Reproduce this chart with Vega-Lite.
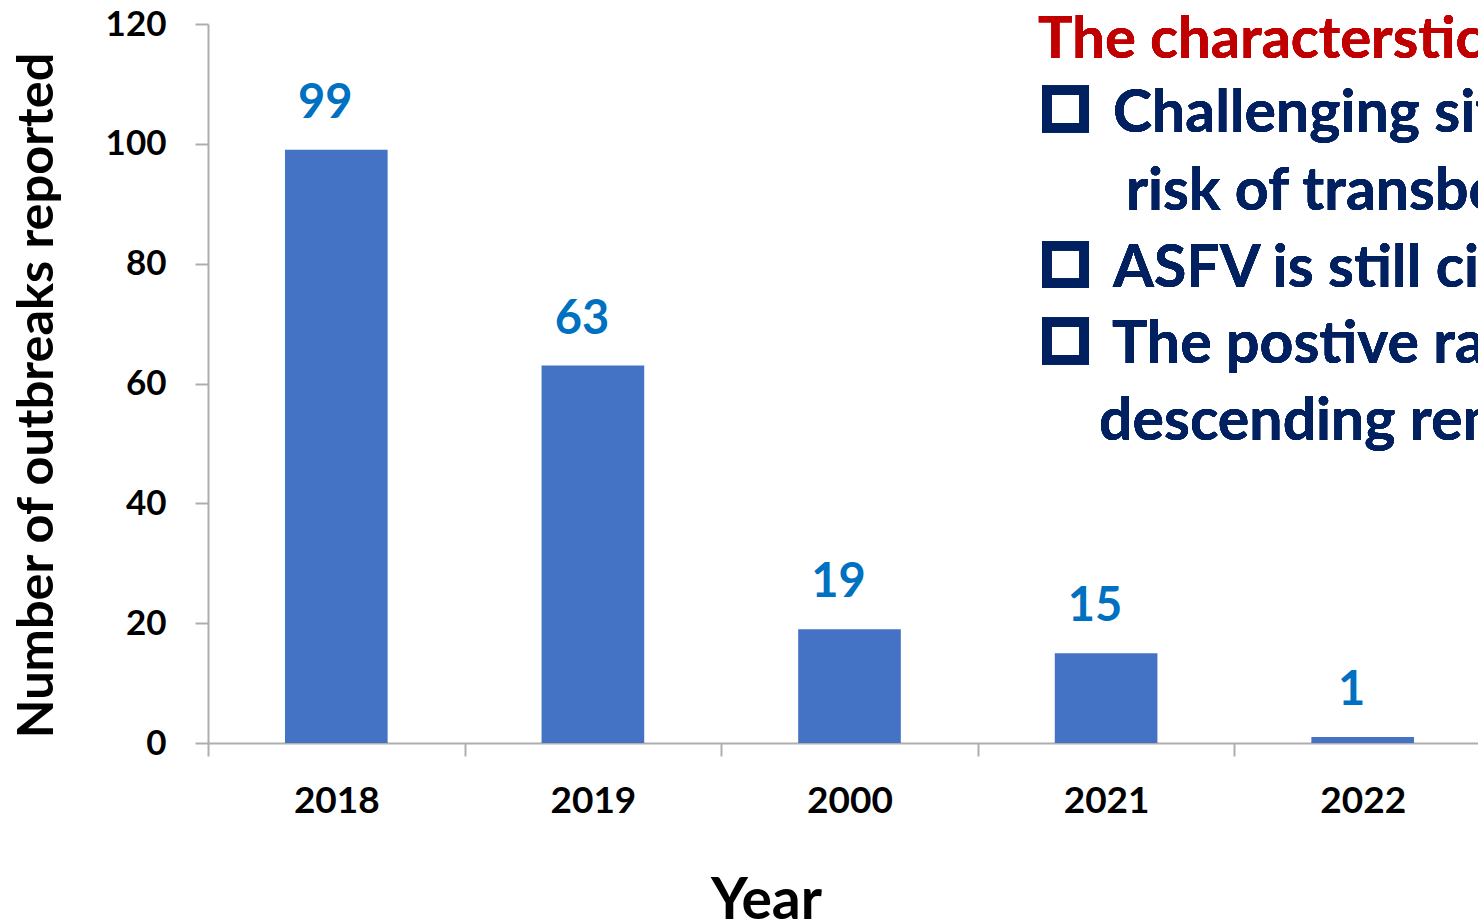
{
  "$schema": "https://vega.github.io/schema/vega-lite/v6.json",
  "width": 1270,
  "height": 719,
  "autosize": {"type": "none"},
  "padding": {"left": 208, "top": 24, "right": 0, "bottom": 181},
  "background": "white",
  "config": {"view": {"stroke": null}, "font": "Lato"},
  "data": {"values": [
    {"year": "2018", "outbreaks": 99},
    {"year": "2019", "outbreaks": 63},
    {"year": "2000", "outbreaks": 19},
    {"year": "2021", "outbreaks": 15},
    {"year": "2022", "outbreaks": 1}
  ]},
  "encoding": {
    "x": {"field": "year", "type": "nominal", "sort": null,
      "scale": {"range": [0, 1283], "paddingInner": 0, "paddingOuter": 0},
      "axis": {
        "title": "Year", "titleFont": "Lato", "titleFontSize": 57, "titleFontWeight": "bold", "titleColor": "black",
        "titleX": 558, "titleY": 175, "titleBaseline": "alphabetic", "titleAlign": "center",
        "labelAngle": 0, "labelFontSize": 37, "labelFontWeight": "bold", "labelColor": "black", "labelPadding": 27,
        "tickBand": "extent", "tickSize": 13, "tickColor": "#AEAEAE", "tickWidth": 2,
        "domainColor": "#AEAEAE", "domainWidth": 2, "grid": false
      }
    },
    "y": {"field": "outbreaks", "type": "quantitative",
      "scale": {"domain": [0, 120], "nice": false},
      "axis": {
        "values": [0, 20, 40, 60, 80, 100, 120],
        "title": "Number of outbreaks reported", "titleFontSize": 50.5, "titleFontWeight": "bold", "titleColor": "black",
        "titleX": -156, "titleY": 371, "titleBaseline": "alphabetic", "titleAlign": "center", "titleAngle": -90,
        "labelFontSize": 35, "labelFontWeight": "bold", "labelColor": "black", "labelPadding": 29,
        "tickSize": 13, "tickColor": "#AEAEAE", "tickWidth": 2,
        "domainColor": "#AEAEAE", "domainWidth": 2, "grid": false
      }
    }
  },
  "layer": [
    {"mark": {"type": "bar", "color": "#4472C4", "width": {"band": 0.4}}},
    {"mark": {"type": "text", "color": "#0070C0", "fontSize": 47, "fontWeight": "bold", "dx": -11, "dy": -32, "baseline": "alphabetic", "align": "center"},
     "encoding": {"text": {"field": "outbreaks", "type": "quantitative"}}},
    {"mark": {"type": "text", "text": "The characterstics of ASF in Vietnam", "color": "#C00000", "fontSize": 58, "fontWeight": "bold", "align": "left", "baseline": "alphabetic"},
     "encoding": {"x": {"datum": "2021", "bandPosition": 0.2346}, "y": {"datum": 114.33}}},
    {"mark": {"type": "text", "text": "Challenging situation with high", "color": "#002060", "fontSize": 59, "fontWeight": "bold", "align": "left", "baseline": "alphabetic"},
     "encoding": {"x": {"datum": "2021", "bandPosition": 0.5269}, "y": {"datum": 101.97}}},
    {"mark": {"type": "text", "text": "risk of transboundary spread", "color": "#002060", "fontSize": 59, "fontWeight": "bold", "align": "left", "baseline": "alphabetic"},
     "encoding": {"x": {"datum": "2021", "bandPosition": 0.5776}, "y": {"datum": 88.96}}},
    {"mark": {"type": "text", "text": "ASFV is still circulating", "color": "#002060", "fontSize": 59, "fontWeight": "bold", "align": "left", "baseline": "alphabetic"},
     "encoding": {"x": {"datum": "2021", "bandPosition": 0.5269}, "y": {"datum": 76.1}}},
    {"mark": {"type": "text", "text": "The postive rate is in", "color": "#002060", "fontSize": 59, "fontWeight": "bold", "align": "left", "baseline": "alphabetic"},
     "encoding": {"x": {"datum": "2021", "bandPosition": 0.523}, "y": {"datum": 63.42}}},
    {"mark": {"type": "text", "text": "descending remarkably", "color": "#002060", "fontSize": 59, "fontWeight": "bold", "align": "left", "baseline": "alphabetic"},
     "encoding": {"x": {"datum": "2021", "bandPosition": 0.4724}, "y": {"datum": 50.57}}},
    {"mark": {"type": "point", "shape": "square", "filled": false, "size": 1406, "stroke": "#002060", "strokeWidth": 9.5, "opacity": 1},
     "encoding": {"x": {"datum": "2021", "bandPosition": 0.3418}, "y": {"datum": 105.81}}},
    {"mark": {"type": "point", "shape": "square", "filled": false, "size": 1406, "stroke": "#002060", "strokeWidth": 9.5, "opacity": 1},
     "encoding": {"x": {"datum": "2021", "bandPosition": 0.3418}, "y": {"datum": 79.86}}},
    {"mark": {"type": "point", "shape": "square", "filled": false, "size": 1406, "stroke": "#002060", "strokeWidth": 9.5, "opacity": 1},
     "encoding": {"x": {"datum": "2021", "bandPosition": 0.3418}, "y": {"datum": 67.09}}}
  ]
}
